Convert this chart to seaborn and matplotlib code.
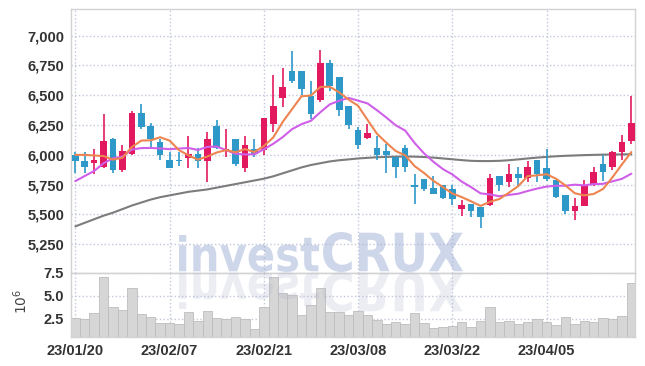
import numpy as np
import pandas as pd
import matplotlib
matplotlib.use("Agg")
import matplotlib.pyplot as plt
import seaborn as sns
from matplotlib.textpath import TextPath
from matplotlib.font_manager import FontProperties
from matplotlib.patches import PathPatch
from matplotlib.transforms import Affine2D, IdentityTransform
from matplotlib.ticker import FuncFormatter

# trading days 2023-01-20 .. 2023-04-18
days = {1: [20, 25, 26, 27, 30, 31],
        2: [1, 2, 3, 6, 7, 8, 9, 10, 13, 14, 15, 16, 17, 20, 21, 22, 23, 24, 27, 28],
        3: [2, 3, 6, 7, 8, 9, 10, 13, 14, 15, 16, 17, 20, 21, 22, 23, 24, 27, 28, 29, 30, 31],
        4: [3, 4, 5, 6, 7, 10, 11, 12, 13, 14, 17, 18]}
dates = pd.to_datetime([f"2023-{m:02d}-{d:02d}" for m in days for d in days[m]])

open_ = np.array([6000, 5950, 5930, 5900, 6130, 5870, 6010, 6350, 6240, 6110,
                  5960, 5960, 5970, 6010, 5950, 6240, 6030, 6130, 5890, 6050,
                  6040, 6260, 6480, 6700, 6700, 6490, 6460, 6770, 6650, 6410,
                  6210, 6140, 6060, 6030, 5980, 6060, 5750, 5800, 5720, 5750,
                  5710, 5550, 5590, 5560, 5580, 5820, 5770, 5840, 5810, 5960,
                  5890, 5790, 5660, 5530, 5570, 5750, 5920, 5900, 6020, 6120])
high = np.array([6020, 6020, 6050, 6340, 6140, 6080, 6370, 6430, 6270, 6130,
                 6020, 6020, 6160, 6060, 6190, 6290, 6220, 6130, 6160, 6130,
                 6310, 6670, 6730, 6870, 6700, 6620, 6880, 6800, 6650, 6410,
                 6230, 6260, 6160, 6090, 5980, 6080, 5840, 5800, 5820, 5750,
                 5750, 5620, 5590, 5560, 5840, 5820, 5920, 5900, 5950, 5960,
                 6050, 5790, 5660, 5640, 5790, 5900, 6000, 6030, 6170, 6490])
low = np.array([5850, 5850, 5840, 5890, 5850, 5860, 6000, 6220, 6060, 5960,
                5890, 5910, 5890, 5890, 5770, 6050, 5980, 5910, 5860, 5980,
                6000, 6190, 6400, 6600, 6500, 6300, 6440, 6540, 6330, 6220,
                6050, 6130, 5960, 5850, 5810, 5860, 5590, 5700, 5670, 5630,
                5580, 5490, 5480, 5390, 5570, 5700, 5730, 5740, 5770, 5770,
                5780, 5640, 5500, 5450, 5570, 5740, 5780, 5870, 5960, 6090])
close = np.array([5950, 5900, 5960, 6120, 5870, 6030, 6350, 6230, 6130, 6000,
                  5890, 5950, 6010, 5950, 6130, 6060, 6050, 5920, 6080, 6010,
                  6310, 6410, 6570, 6620, 6550, 6340, 6770, 6580, 6380, 6250,
                  6080, 6180, 6000, 6000, 5900, 5900, 5730, 5710, 5670, 5640,
                  5630, 5580, 5530, 5480, 5810, 5750, 5840, 5810, 5900, 5840,
                  5800, 5650, 5530, 5570, 5750, 5860, 5860, 6020, 6110, 6270])

ma5 = [6000, 6000, 5995, 5990, 5960, 5976, 6066, 6120, 6122, 6148,
       6120, 6040, 5996, 5960, 5986, 6020, 6040, 6022, 6048, 6024,
       6074, 6146, 6276, 6384, 6492, 6498, 6570, 6572, 6524, 6464,
       6412, 6294, 6178, 6102, 6032, 5996, 5906, 5848, 5782, 5730,
       5676, 5646, 5610, 5572, 5606, 5630, 5682, 5738, 5822, 5828,
       5838, 5800, 5744, 5678, 5660, 5672, 5714, 5812, 5920, 6024]
ma10 = [5780, 5823, 5865, 5930, 5972, 5985, 6045, 6057, 6058, 6054,
        6048, 6053, 6058, 6041, 6067, 6070, 6040, 6009, 6004, 6005,
        6047, 6093, 6149, 6216, 6258, 6286, 6358, 6424, 6454, 6478,
        6455, 6432, 6375, 6313, 6248, 6204, 6100, 6013, 5942, 5881,
        5836, 5776, 5729, 5677, 5668, 5653, 5664, 5674, 5697, 5717,
        5734, 5741, 5741, 5750, 5744, 5755, 5757, 5778, 5799, 5842]
ma60 = [5400, 5430, 5460, 5490, 5515, 5545, 5575, 5600, 5625, 5645,
        5660, 5675, 5690, 5700, 5710, 5725, 5740, 5755, 5770, 5785,
        5800, 5820, 5845, 5870, 5895, 5915, 5930, 5945, 5955, 5962,
        5970, 5975, 5980, 5983, 5985, 5986, 5985, 5982, 5977, 5970,
        5963, 5956, 5950, 5948, 5948, 5950, 5955, 5962, 5970, 5977,
        5983, 5988, 5992, 5995, 5998, 6000, 6002, 6003, 6004, 6005]

# volume in millions
volume = [2.58, 2.47, 3.13, 6.98, 3.79, 3.46, 5.77, 3.02, 2.69, 2.02,
          2.02, 1.92, 3.24, 2.28, 3.35, 2.58, 2.47, 2.69, 2.50, 1.40,
          3.79, 7.00, 5.25, 5.10, 2.90, 4.00, 5.80, 3.27, 3.23, 2.90,
          3.35, 2.90, 2.39, 1.95, 2.17, 1.95, 3.13, 2.02, 1.47, 1.59,
          1.70, 2.17, 1.59, 2.24, 3.79, 2.17, 2.24, 1.95, 2.17, 2.46,
          2.13, 1.80, 2.69, 1.95, 2.28, 2.17, 2.58, 2.50, 2.80, 6.35]

RED = "#e2195f"
BLUE = "#2e98c9"
GRID = "#c3c7da"
SPINE = "#d2d2d2"
TXT = "#333333"

sns.set_theme(style="white")
plt.rcParams["font.family"] = ["Liberation Sans", "DejaVu Sans"]

W, H = 645, 366
fig = plt.figure(figsize=(W / 100, H / 100), dpi=100)


def axes_px(l, t, r, b):
    return fig.add_axes([l / W, 1 - b / H, (r - l) / W, (b - t) / H])


ax = axes_px(71, 9, 635.3, 272.5)
axv = axes_px(71, 272.5, 635.3, 337)

x = np.arange(len(close))
colors = np.where(close >= open_, RED, BLUE)

sns.lineplot(x=x, y=ma60, color="#7c7c7c", linewidth=1.5, ax=ax, zorder=2)
ax.vlines(x, low, high, colors=colors, linewidth=1.2, zorder=3)
ax.bar(x, np.maximum(np.abs(close - open_), 8), bottom=np.minimum(open_, close),
       width=0.7, color=colors, linewidth=0, zorder=3)
sns.lineplot(x=x, y=ma10, color="#cf5fe8", linewidth=1.5, ax=ax, zorder=4)
sns.lineplot(x=x, y=ma5, color="#ee8450", linewidth=1.5, ax=ax, zorder=5)

sns.barplot(x=x, y=volume, native_scale=True, width=1.0, color="#d6d6d6",
            saturation=1, edgecolor="#bdbdbd", linewidth=0.6, ax=axv, zorder=2)

ticks = list(range(0, len(dates), 10))
for a in (ax, axv):
    a.set_xlim(-0.46, 59.42)
    a.set_xticks(ticks)
    a.grid(True, linestyle=":", color=GRID, linewidth=1.0, zorder=0)
    a.set_axisbelow(True)
    for s in a.spines.values():
        s.set_color(SPINE)
        s.set_linewidth(1.0)
    a.tick_params(length=0, colors=TXT, labelsize=10.5, pad=5)

ax.set_ylim(5013, 7224)
ax.set_yticks(np.arange(5250, 7001, 250))
ax.yaxis.set_major_formatter(FuncFormatter(lambda v, p: f"{v:,.0f}"))
ax.set_xticklabels([])
ax.set_xlabel("")

axv.set_ylim(0.52, 7.5)
axv.set_yticks([2.5, 5.0, 7.5])
axv.set_yticklabels(["2.5", "5.0", "7.5"])
axv.set_xticklabels([dates[i].strftime("%y/%m/%d") for i in ticks])
axv.set_xlabel("")
axv.set_ylabel("$10^6$", fontsize=10, color="#444444", rotation=90)
axv.yaxis.set_label_coords(-0.072, 0.55)
for lab in ax.get_yticklabels() + axv.get_yticklabels() + axv.get_xticklabels():
    lab.set_fontweight("bold")


def watermark(text, x0, x1, ytop, ybot, flip, color, alpha):
    tp = TextPath((0, 0), text, size=50, prop=FontProperties(family="DejaVu Sans", weight="bold"))
    e = tp.get_extents()
    sx = (x1 - x0) / e.width
    sy = (ybot - ytop) / e.height
    tr = Affine2D().translate(-e.x0, -e.y0).scale(sx, -sy if flip else sy).translate(x0, H - ybot)
    patch = PathPatch(tr.transform_path(tp), facecolor=color, edgecolor="none",
                      alpha=alpha, transform=IdentityTransform(), zorder=10)
    fig.add_artist(patch)


watermark("invest", 179, 319, 235, 272, False, "#9fafd6", 0.5)
watermark("CRUX", 323, 463, 232, 272, False, "#9fafd6", 0.5)
watermark("invest", 179, 319, 235, 272, True, "#b4bad0", 0.25)
watermark("CRUX", 323, 463, 232, 272, True, "#b4bad0", 0.25)

fig.savefig("out.png", dpi=100)
